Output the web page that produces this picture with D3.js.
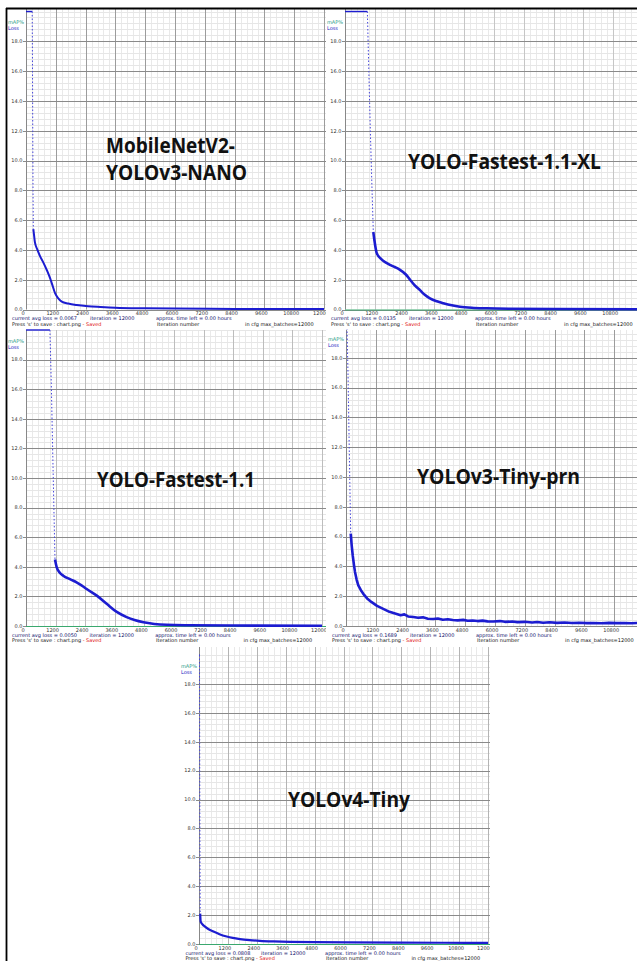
<!DOCTYPE html>
<html>
<head>
<meta charset="utf-8">
<script src="https://cdn.jsdelivr.net/npm/d3@7"></script>
<style>
  body { margin: 0; background: #fff; }
  svg { display: block; }
</style>
</head>
<body>
<div id="chart"></div>
<script>
// values
const xTicks = [0, 1200, 2400, 3600, 4800, 6000, 7200, 8400, 9600, 10800, 12000];
const yTicks = [0, 2, 4, 6, 8, 10, 12, 14, 16, 18];
const chartTitles = [["MobileNetV2-", "YOLOv3-NANO"], ["YOLO-Fastest-1.1-XL"], ["YOLO-Fastest-1.1"], ["YOLOv3-Tiny-prn"], ["YOLOv4-Tiny"]];
const avgLosses = ["0.0067", "0.0135", "0.0050", "0.1689", "0.0808"];
const iterations = [12000, 12000, 12000, 12000, 12000];

// [iteration, loss]  (loss above 20 is drawn on the top edge)
const nanoTop = [[0, 20], [250, 20]];
const nanoDrop = [[250, 20], [262, 16], [272, 12], [282, 8], [295, 5.4]];
const nanoLoss = [[295, 5.4], [330, 4.9], [360, 4.5], [450, 4.05], [560, 3.6], [700, 3.15], [850, 2.6], [970, 2.1], [1050, 1.7], [1170, 1.1], [1300, 0.75], [1440, 0.53], [1700, 0.4], [2040, 0.3], [2500, 0.22], [3000, 0.17], [3600, 0.12], [4800, 0.08], [6000, 0.06], [8400, 0.04], [12000, 0.03]];

const xlTop = [[0, 20], [900, 20]];
const xlDrop = [[900, 20], [960, 16], [1020, 12], [1080, 8.5], [1140, 5.2]];
const xlLoss = [[1140, 5.2], [1180, 4.7], [1275, 3.8], [1480, 3.35], [1650, 3.15], [1810, 3.0], [2000, 2.85], [2200, 2.68], [2450, 2.35], [2620, 2.0], [2820, 1.6], [3020, 1.3], [3200, 1.0], [3420, 0.75], [3700, 0.55], [3960, 0.42], [4300, 0.28], [4630, 0.19], [5100, 0.12], [5700, 0.08], [6600, 0.05], [8400, 0.03], [12000, 0.02]];

const fastTop = [[0, 20], [970, 20]];
const fastDrop = [[970, 20], [1030, 16], [1080, 12], [1130, 8], [1175, 4.5]];
const fastLoss = [[1175, 4.5], [1240, 4.0], [1370, 3.6], [1510, 3.4], [1800, 3.15], [2050, 2.95], [2250, 2.75], [2460, 2.5], [2870, 2.05], [3270, 1.5], [3680, 0.95], [4080, 0.6], [4400, 0.4], [4760, 0.25], [5200, 0.14], [5700, 0.08], [6600, 0.05], [8400, 0.03], [12000, 0.02]];

const prnTop = [[0, 20], [40, 20]];
const prnDrop = [[40, 20], [80, 17], [120, 13], [160, 9], [190, 6.2]];
const prnLoss = [[190, 6.2], [230, 5.4], [270, 4.75], [320, 4.1], [362, 3.63], [430, 3.1], [496, 2.72], [600, 2.4], [697, 2.16], [850, 1.85], [1034, 1.6], [1250, 1.35], [1500, 1.15], [1750, 0.95], [2040, 0.81], [2200, 0.72], [2350, 0.78], [2500, 0.64], [2710, 0.6], [2900, 0.55], [3100, 0.58], [3300, 0.49], [3510, 0.47], [3700, 0.5], [3900, 0.42], [4100, 0.45], [4300, 0.4], [4500, 0.38], [4720, 0.41], [4900, 0.35], [5100, 0.37], [5300, 0.33], [5500, 0.36], [5700, 0.31], [5930, 0.3], [6200, 0.33], [6400, 0.28], [6700, 0.3], [6900, 0.26], [7200, 0.28], [7500, 0.24], [7700, 0.27], [7940, 0.22], [8200, 0.25], [8500, 0.21], [8800, 0.23], [9100, 0.2], [9400, 0.22], [9700, 0.19], [9960, 0.2], [10300, 0.18], [10600, 0.21], [10900, 0.19], [11200, 0.2], [11500, 0.18], [11800, 0.21], [12000, 0.19]];

const v4Top = [[0, 20], [20, 20]];
const v4Drop = [[20, 20], [28, 14], [36, 8], [44, 4], [50, 2.1]];
const v4Loss = [[50, 2.1], [70, 1.55], [150, 1.35], [250, 1.2], [400, 1.02], [600, 0.86], [850, 0.68], [1150, 0.52], [1400, 0.42], [1700, 0.34], [2100, 0.27], [2530, 0.22], [3100, 0.18], [3780, 0.15], [4800, 0.13], [6270, 0.11], [8400, 0.09], [10200, 0.085], [12000, 0.08]];

const series = [
    [nanoTop, nanoDrop, nanoLoss],
    [xlTop, xlDrop, xlLoss],
    [fastTop, fastDrop, fastLoss],
    [prnTop, prnDrop, prnLoss],
    [v4Top, v4Drop, v4Loss]
];

// where each screenshot sits on the page
const panels = [
    { x0: 26,  step: 29.8, y0: 309.5, clip: [6, 8, 326, 329],     vgrid: "#9c9c9c", green: false, band: 2,   title: { x: 106, y: [153, 180], w: [129, 141] } },
    { x0: 345, step: 29.8, y0: 309.5, clip: [326, 8, 637, 329],   vgrid: "#c6c6c6", green: true,  band: 2.6, title: { x: 408, y: [169], w: [193] } },
    { x0: 26,  step: 29.6, y0: 626,   clip: [6, 329, 326, 646],   vgrid: "#bdbdbd", green: true,  band: 2.6, title: { x: 97,  y: [487], w: [158] } },
    { x0: 346, step: 29.8, y0: 626,   clip: [326, 329, 637, 646], vgrid: "#9c9c9c", green: false, band: 2.6, title: { x: 417, y: [484], w: [163] } },
    { x0: 199, step: 28.9, y0: 944,   clip: [168, 646, 490, 961], vgrid: "#b4b4b4", green: true,  band: 2.2, title: { x: 288, y: [807], w: [122] } }
];

const W = 637, H = 961;
const blue = "#1c1cd0";
const smallFont = "'DejaVu Sans', sans-serif";

const svg = d3.select("#chart")
    .append("svg")
    .attr("width", W)
    .attr("height", H);

panels.forEach((p, i) => {
    const [cx0, cy0, cx1, cy1] = p.clip;
    const rowH = p.step; // same spacing per 2.0 of loss as per 1200 iterations

    const x = d3.scaleLinear().domain([0, 12000]).range([p.x0, p.x0 + 10 * p.step]);
    const y = d3.scaleLinear().domain([0, 20]).range([p.y0, p.y0 - 10 * rowH]).clamp(true);

    svg.append("clipPath").attr("id", "clip" + i)
        .append("rect")
        .attr("x", cx0).attr("y", cy0)
        .attr("width", cx1 - cx0).attr("height", cy1 - cy0);

    const g = svg.append("g").attr("clip-path", `url(#clip${i})`);

    // minor grid
    const minorX = d3.range(0, 14400, 240);
    const minorY = d3.range(0, 20.01, 0.4);
    g.selectAll(".mx").data(minorX).join("line")
        .attr("x1", d => Math.round(x(d)) + 0.5).attr("x2", d => Math.round(x(d)) + 0.5)
        .attr("y1", cy0 + 1).attr("y2", p.y0)
        .attr("stroke", "#e9e9e9").attr("stroke-width", 1);
    g.selectAll(".my").data(minorY).join("line")
        .attr("x1", p.x0).attr("x2", cx1)
        .attr("y1", d => Math.round(y(d)) + 0.5).attr("y2", d => Math.round(y(d)) + 0.5)
        .attr("stroke", "#e6e6e6").attr("stroke-width", 1);

    // major grid
    g.selectAll(".Mx").data(xTicks.concat([13200])).join("line")
        .attr("x1", d => Math.round(x(d)) + 0.5).attr("x2", d => Math.round(x(d)) + 0.5)
        .attr("y1", cy0 + 1).attr("y2", p.y0)
        .attr("stroke", d => d === 0 ? "#888" : p.vgrid).attr("stroke-width", 1);
    g.selectAll(".My").data(yTicks).join("line")
        .attr("x1", p.x0 - 3).attr("x2", cx1)
        .attr("y1", d => Math.round(y(d)) + 0.5).attr("y2", d => Math.round(y(d)) + 0.5)
        .attr("stroke", "#8a8a8a").attr("stroke-width", 1);

    // tick labels (labels past the page edge are dropped)
    g.selectAll(".yl").data(yTicks).join("text")
        .attr("x", p.x0 - 3.5)
        .attr("y", d => y(d) + 1.8)
        .attr("text-anchor", "end")
        .style("font-family", smallFont)
        .style("font-size", "5px")
        .style("fill", "#333")
        .text(d => d.toFixed(1));
    g.selectAll(".xl").data(xTicks.filter(d => x(d) + 6 < W)).join("text")
        .attr("x", d => x(d) - 3)
        .attr("y", p.y0 + 5.5)
        .attr("text-anchor", "middle")
        .style("font-family", smallFont)
        .style("font-size", "5px")
        .style("fill", "#333")
        .text(d => d);

    // legend
    g.append("text")
        .attr("x", p.x0 - 18).attr("y", y(20) + 12.5)
        .style("font-family", smallFont).style("font-size", "5px")
        .style("fill", "#2b9c88")
        .text("mAP%");
    g.append("text")
        .attr("x", p.x0 - 18).attr("y", y(20) + 18.5)
        .style("font-family", smallFont).style("font-size", "5px")
        .style("fill", "#2020c0")
        .text("Loss");

    // green accuracy line along the bottom
    if (p.green) {
        g.append("line")
            .attr("x1", p.x0).attr("x2", cx1)
            .attr("y1", p.y0 + 0.5).attr("y2", p.y0 + 0.5)
            .attr("stroke", "#3aa86e").attr("stroke-width", 1.2);
    }

    // loss curve
    const [top, drop, loss] = series[i];
    const line = d3.line().x(d => x(d[0])).y(d => y(d[1]));
    g.append("path").attr("d", line(top))
        .attr("fill", "none").attr("stroke", blue).attr("stroke-width", 1.4);
    g.append("path").attr("d", line(drop))
        .attr("fill", "none").attr("stroke", "#4646dc").attr("stroke-width", 1)
        .attr("stroke-dasharray", "1.5,2");
    g.append("path").attr("d", line.curve(i === 3 ? d3.curveLinear : d3.curveMonotoneX)(loss))
        .attr("fill", "none").attr("stroke", blue)
        .attr("stroke-width", p.band).attr("stroke-linejoin", "round");

    // status lines under the chart
    const k = p.step / 29.8;
    const t1 = g.append("g").style("font-family", smallFont).style("font-size", "5px");
    [[-14, `current avg loss = ${avgLosses[i]}`], [64, `iteration = ${iterations[i]}`], [130, "approx. time left = 0.00 hours"]]
        .forEach(([dx, s]) => {
            t1.append("text").attr("x", p.x0 + dx * k).attr("y", p.y0 + 10.5)
                .style("fill", "#10106a").text(s);
        });
    const press = t1.append("text").attr("x", p.x0 - 14 * k).attr("y", p.y0 + 16.3).style("fill", "#111");
    press.append("tspan").text("Press 's' to save : chart.png ");
    press.append("tspan").style("fill", "#e01010").text("- Saved");
    t1.append("text").attr("x", p.x0 + 131 * k).attr("y", p.y0 + 16.3)
        .style("fill", "#111").text("Iteration number");
    t1.append("text").attr("x", p.x0 + 219 * k).attr("y", p.y0 + 16.3)
        .style("fill", "#111").text(`in cfg max_batches=${iterations[i]}`);

    // big model name
    chartTitles[i].forEach((s, j) => {
        g.append("text")
            .attr("x", p.title.x).attr("y", p.title.y[j])
            .attr("textLength", p.title.w[j])
            .attr("lengthAdjust", "spacingAndGlyphs")
            .style("font-family", "'Open Sans', sans-serif")
            .style("font-weight", "700")
            .style("font-size", "21px")
            .style("fill", "#111")
            .text(s);
    });
});

// outer frame of the collage
svg.append("line").attr("x1", 6).attr("x2", W).attr("y1", 8.5).attr("y2", 8.5)
    .attr("stroke", "#000").attr("stroke-width", 1.8);
svg.append("line").attr("x1", 6.5).attr("x2", 6.5).attr("y1", 8).attr("y2", H)
    .attr("stroke", "#000").attr("stroke-width", 1.8);
</script>
</body>
</html>
